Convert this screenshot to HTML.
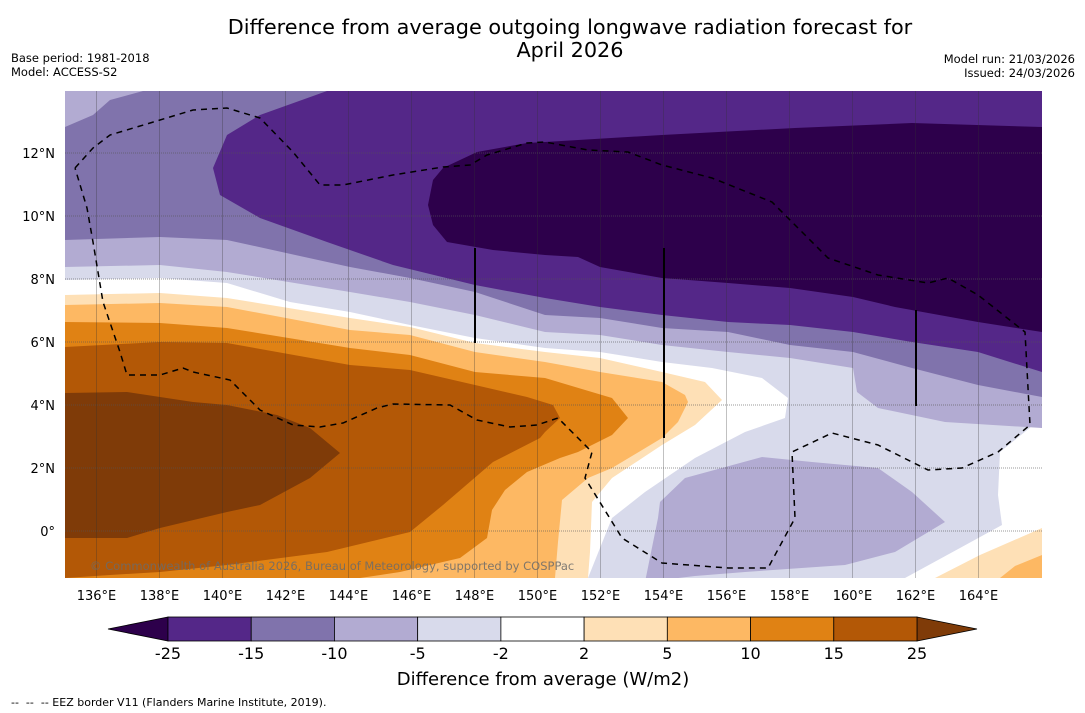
<!DOCTYPE html>
<html><head><meta charset="utf-8"><style>
body{margin:0;background:#fff;}
svg{display:block;font-family:"DejaVu Sans","Liberation Sans",sans-serif;}
</style></head><body>
<svg id="fig" width="1085" height="713" viewBox="0 0 1085 713">
<text x="570" y="34" font-size="20.8" text-anchor="middle">Difference from average outgoing longwave radiation forecast for</text>
<text x="570" y="57" font-size="20.8" text-anchor="middle">April 2026</text>
<text x="11" y="62" font-size="11.5">Base period: 1981-2018</text>
<text x="11" y="76" font-size="11.5">Model: ACCESS-S2</text>
<text x="1075" y="63" font-size="11.5" text-anchor="end">Model run: 21/03/2026</text>
<text x="1075" y="77" font-size="11.5" text-anchor="end">Issued: 24/03/2026</text>
<defs><clipPath id="mapclip"><rect x="65" y="91" width="977" height="487"/></clipPath></defs>
<g id="map" clip-path="url(#mapclip)">
<rect x="65" y="91" width="977" height="487" fill="#fff"/>
<polygon fill="#d8daeb" points="65,91 1042,91 1042,418 1000,452 998,495 1002,525 960,548 905,578 588,578 612,518 645,492 695,458 745,432 785,418 788,398 762,378 712,368 662,362 600,352 545,348 475,338 410,325 350,312 290,302 227,283 160,278 65,280"/>
<polygon fill="#b2abd2" points="65,91 1042,91 1042,428 945,422 878,408 857,392 853,368 790,358 728,352 662,345 600,335 545,332 475,315 410,302 350,292 227,272 160,265 65,267"/>
<polygon fill="#b2abd2" points="658,518 660,502 685,478 762,457 812,462 878,468 912,492 945,522 895,552 845,565 745,572 695,576 645,582"/>
<polygon fill="#8073ac" points="65,127 93,115 110,100 143,91 1042,91 1042,397 978,385 912,368 853,352 790,345 728,332 662,328 600,318 545,315 475,292 410,278 350,267 227,240 160,237 65,240"/>
<polygon fill="#542788" points="327,91 1042,91 1042,372 978,352 912,342 853,332 790,325 728,322 662,315 600,307 545,298 475,285 393,265 327,242 260,218 220,195 213,168 227,135 260,115"/>
<polygon fill="#2d004b" points="428,205 433,180 443,168 477,152 527,143 545,142 662,135 795,128 912,123 1042,127 1042,332 978,322 895,307 853,297 790,288 728,283 662,278 600,267 578,257 545,255 493,250 447,242 433,225"/>
<polygon fill="#fee0b6" points="65,295 160,293 227,298 350,318 410,327 475,343 545,352 600,358 662,372 705,382 722,400 695,425 662,445 612,478 592,502 590,552 588,578 65,578"/>
<polygon fill="#fee0b6" points="1042,528 980,555 935,578 1042,578"/>
<polygon fill="#fdb863" points="65,305 160,303 227,307 350,330 410,335 475,352 545,362 600,372 662,382 685,395 688,402 678,422 662,438 612,468 588,478 562,500 558,542 555,578 65,578"/>
<polygon fill="#fdb863" points="1042,555 1015,566 1000,578 1042,578"/>
<polygon fill="#e08214" points="65,322 160,323 227,328 350,348 410,355 475,372 545,378 612,398 628,418 612,435 578,452 560,458 527,472 505,490 492,510 487,538 460,558 400,572 360,578 65,578"/>
<polygon fill="#b35806" points="65,347 160,342 227,343 350,365 410,370 475,385 527,397 553,405 560,418 545,432 540,438 493,462 443,505 410,532 327,552 227,565 160,572 110,575 65,578"/>
<polygon fill="#7f3b08" points="65,393 127,392 193,402 227,405 277,415 310,428 340,453 310,478 260,505 227,512 160,528 127,538 65,538"/>
<g id="grid"></g>
<polyline fill="none" stroke="#000" stroke-width="1.5" stroke-dasharray="6,5" points="75,168 93,148 110,135 160,120 193,110 227,108 260,118 293,152 320,185 343,185 393,175 443,167 470,165 487,155 527,143 545,142 588,150 628,152 662,165 712,178 772,202 788,218 828,258 878,275 928,283 948,278 978,295 1025,332 1030,425 998,452 962,468 928,470 878,445 832,433 792,452 795,518 768,568 728,568 662,563 622,538 585,478 592,452 558,418 537,425 510,427 477,420 450,405 393,404 377,408 343,423 320,427 293,425 260,410 230,380 193,372 183,368 160,375 127,375 120,352 103,302 93,242 87,208 75,168"/>
<line x1="475" y1="248" x2="475" y2="343" stroke="#000" stroke-width="2"/>
<line x1="664" y1="248" x2="664" y2="438" stroke="#000" stroke-width="2"/>
<line x1="916" y1="310" x2="916" y2="406" stroke="#000" stroke-width="2"/>
<text x="90" y="570" font-size="11.5" fill="#6b6b6b" opacity="0.85">© Commonwealth of Australia 2026, Bureau of Meteorology, supported by COSPPac</text>
</g>
<g id="axes"></g>
<g id="cbar"></g>
<text x="543" y="685" font-size="18" text-anchor="middle">Difference from average (W/m2)</text>
<text x="11" y="706" font-size="11" xml:space="preserve" style="white-space:pre">--  --  -- EEZ border V11 (Flanders Marine Institute, 2019).</text>
</svg>
<script>
const lonTicks = [136,138,140,142,144,146,148,150,152,154,156,158,160,162,164];
const latTicks = [0,2,4,6,8,10,12];
const cbarLevels = [-25,-15,-10,-5,-2,2,5,10,15,25];
const cbarColors = ["#542788","#8073ac","#b2abd2","#d8daeb","#ffffff","#fee0b6","#fdb863","#e08214","#b35806"];
const cbarUnder = "#2d004b";
const cbarOver = "#7f3b08";

const NS = "http://www.w3.org/2000/svg";
const xLon = lon => 65 + (lon - 135) * 31.5;
const yLat = lat => 531 - lat * 31.5;
function mk(tag, attrs, parent){const e=document.createElementNS(NS,tag);for(const k in attrs)e.setAttribute(k,attrs[k]);parent.appendChild(e);return e;}

const grid = document.getElementById('grid');
const axes = document.getElementById('axes');
lonTicks.forEach(lon=>{
  const l = mk('line',{x1:xLon(lon),x2:xLon(lon),y1:91,y2:578,stroke:'#333','stroke-opacity':0.3,'stroke-width':1},grid);
  
  
  const t = mk('text',{x:xLon(lon),y:600,'font-size':13,'text-anchor':'middle'},axes);
  t.textContent = lon + '°E';
  
  
});
latTicks.forEach(lat=>{
  const l = mk('line',{x1:65,x2:1042,y1:yLat(lat),y2:yLat(lat),stroke:'#555','stroke-opacity':0.6,'stroke-width':1,'stroke-dasharray':'1,1'},grid);
  
  
  const t = mk('text',{x:55,y:yLat(lat)+5,'font-size':13,'text-anchor':'end'},axes);
  t.textContent = lat === 0 ? '0°' : lat + '°N';
  
  
});

const cbar = document.getElementById('cbar');
const cx0 = 168, cx1 = 917, cy0 = 617, cy1 = 641;
const bw = (cx1 - cx0) / cbarColors.length;
const under = mk('polygon',{points:`${cx0},${cy0} 108,${(cy0+cy1)/2} ${cx0},${cy1}`,fill:cbarUnder,stroke:'#000','stroke-width':0.8},cbar);


const over = mk('polygon',{points:`${cx1},${cy0} 977,${(cy0+cy1)/2} ${cx1},${cy1}`,fill:cbarOver,stroke:'#000','stroke-width':0.8},cbar);


cbarColors.forEach((c,i)=>{
  const r = mk('rect',{x:cx0+i*bw,y:cy0,width:bw,height:cy1-cy0,fill:c,stroke:'#000','stroke-width':0.8},cbar);
  
  
});
cbarLevels.forEach((v,i)=>{
  const t = mk('text',{x:cx0+i*bw,y:659,'font-size':16,'text-anchor':'middle'},cbar);
  t.textContent = v;
  
  
});
</script>
</body></html>
